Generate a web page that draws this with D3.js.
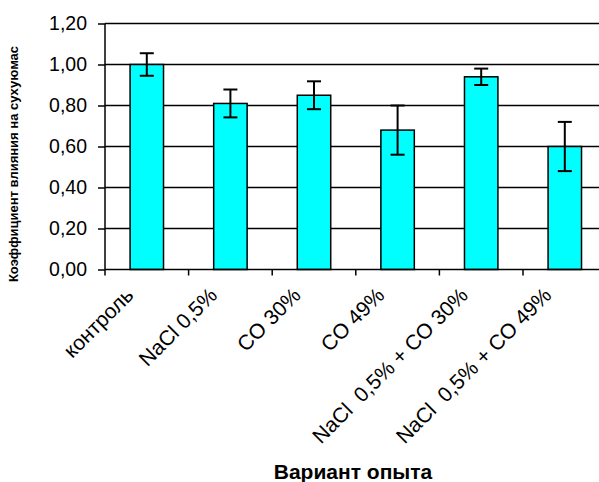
<!DOCTYPE html>
<html>
<head>
<meta charset="utf-8">
<script src="https://cdn.jsdelivr.net/npm/d3@7"></script>
<style>
  html, body { margin: 0; padding: 0; background: #fff; }
  svg { display: block; font-family: "Liberation Sans", Arial, sans-serif; }
</style>
</head>
<body>
<svg id="chart" width="599" height="482"></svg>
<script>
const categories = ["контроль", "NaCl 0,5%", "CO 30%", "CO 49%", "NaCl  0,5% + CO 30%", "NaCl  0,5% + CO 49%"];
const values = [1.00, 0.81, 0.85, 0.68, 0.94, 0.60];
const errors = [0.055, 0.068, 0.068, 0.12, 0.04, 0.12];
const yTicks = [0, 0.2, 0.4, 0.6, 0.8, 1.0, 1.2];
const yTitle = "Коэффициент влияния на сухуюмас";
const xTitle = "Вариант опыта";

(function () {
const svg = d3.select("#chart");
const left = 105, plotTop = 23.5, plotBottom = 269.5, plotW = 501.6;

const x = d3.scaleBand().domain(categories).range([left, left + plotW])
  .paddingInner(0.6).paddingOuter(0.3);
const step = x.step();
const y = d3.scaleLinear().domain([0, 1.2]).range([plotBottom, plotTop]);
const fmt = v => d3.format(".2f")(v).replace(".", ",");

// gridlines
svg.append("g").selectAll("line").data(yTicks.filter(d => d > 0)).join("line")
  .attr("x1", left).attr("x2", left + plotW)
  .attr("y1", d => y(d)).attr("y2", d => y(d))
  .attr("stroke", "#000").attr("stroke-width", 1.5);

// y axis
const yAxis = d3.axisLeft(y).tickValues(yTicks).tickFormat(fmt).tickSize(7).tickPadding(11);
const gy = svg.append("g").attr("transform", `translate(${left},0)`).call(yAxis);
gy.select(".domain").attr("stroke", "#000").attr("stroke-width", 1.5).attr("d", `M0,${plotBottom}V${plotTop}`);
gy.selectAll(".tick line").attr("stroke", "#000").attr("stroke-width", 1.5);
gy.selectAll(".tick text").attr("font-size", 19.5).attr("fill", "#000")
  .attr("font-family", "Liberation Sans, Arial, sans-serif");

// bars
svg.append("g").selectAll("rect").data(values).join("rect")
  .attr("x", (d, i) => x(categories[i]))
  .attr("y", d => y(d))
  .attr("width", x.bandwidth())
  .attr("height", d => y(0) - y(d))
  .attr("fill", "#00FFFF").attr("stroke", "#000").attr("stroke-width", 1.5);

// error bars
const eg = svg.append("g").attr("stroke", "#000").attr("stroke-width", 2);
values.forEach((v, i) => {
  const cx = x(categories[i]) + x.bandwidth() / 2;
  const y1 = y(v + errors[i]), y2 = y(v - errors[i]);
  eg.append("line").attr("x1", cx).attr("x2", cx).attr("y1", y1).attr("y2", y2);
  eg.append("line").attr("x1", cx - 7).attr("x2", cx + 7).attr("y1", y1).attr("y2", y1);
  eg.append("line").attr("x1", cx - 7).attr("x2", cx + 7).attr("y1", y2).attr("y2", y2);
});

// x axis line and boundary ticks
svg.append("line").attr("x1", left).attr("x2", left + plotW)
  .attr("y1", plotBottom).attr("y2", plotBottom).attr("stroke", "#000").attr("stroke-width", 1.5);
svg.append("g").selectAll("line").data(d3.range(categories.length + 1)).join("line")
  .attr("x1", i => left + i * step).attr("x2", i => left + i * step)
  .attr("y1", plotBottom).attr("y2", plotBottom + 6)
  .attr("stroke", "#000").attr("stroke-width", 1.5);

// category labels
svg.append("g").selectAll("text").data(categories).join("text")
  .attr("transform", d => `translate(${x(d) + x.bandwidth() / 2 - 12},${plotBottom + 27}) rotate(-45)`)
  .attr("text-anchor", "end")
  .attr("font-size", 21)
  .style("white-space", "pre")
  .text(d => d);

// axis titles
svg.append("text")
  .attr("transform", `translate(18,164) rotate(-90)`)
  .attr("text-anchor", "middle")
  .attr("font-size", 13).attr("font-weight", "bold")
  .text(yTitle);

svg.append("text")
  .attr("x", 353).attr("y", 479)
  .attr("text-anchor", "middle")
  .attr("font-size", 21).attr("font-weight", "bold")
  .text(xTitle);
})();
</script>
</body>
</html>
